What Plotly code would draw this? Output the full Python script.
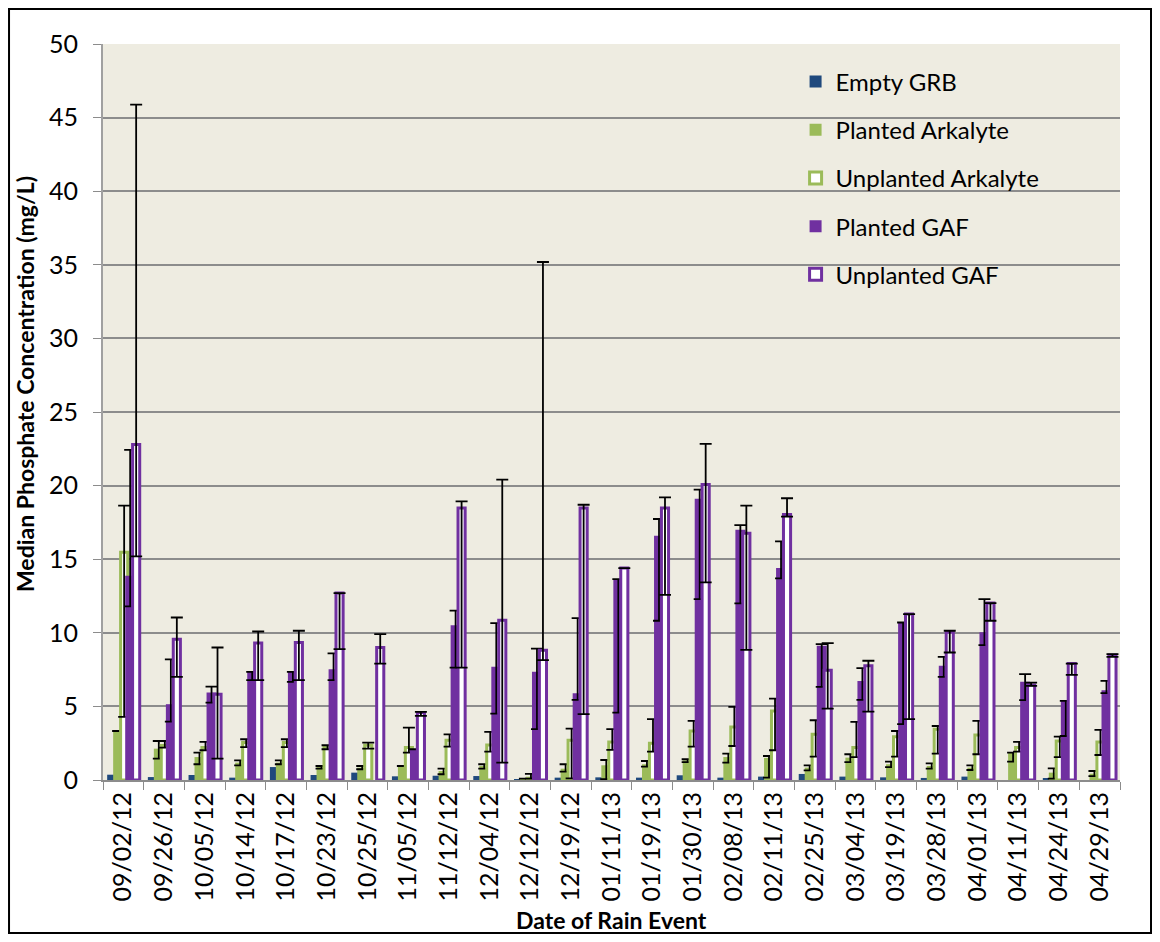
import plotly.graph_objects as go

dates = ["09/02/12", "09/26/12", "10/05/12", "10/14/12", "10/17/12", "10/23/12", "10/25/12",
         "11/05/12", "11/12/12", "12/04/12", "12/12/12", "12/19/12", "01/11/13", "01/19/13",
         "01/30/13", "02/08/13", "02/11/13", "02/25/13", "03/04/13", "03/19/13", "03/28/13",
         "04/01/13", "04/11/13", "04/24/13", "04/29/13"]

empty_grb = [0.36, 0.2, 0.34, 0.16, 0.88, 0.34, 0.5, 0.25, 0.29, 0.27, 0.05, 0.16, 0.18,
             0.16, 0.32, 0.16, 0.23, 0.41, 0.23, 0.18, 0.14, 0.23, 0, 0.1, 0]

planted_ark = [3.33, 2.13, 1.56, 1.18, 1.18, 0.88, 0.84, 0.95, 0.61, 0.95, 0.1, 0.77, 1.0,
               1.07, 1.34, 1.56, 1.5, 0.84, 1.52, 1.07, 0.95, 0.84, 1.86, 0.5, 0.43]
planted_ark_hi = [3.33, 2.65, 1.86, 1.34, 1.34, 0.95, 0.95, 0.95, 0.77, 1.07, 0.1, 1.07, 1.36,
                  1.29, 1.41, 1.79, 1.63, 1.0, 1.75, 1.25, 1.13, 1.0, 1.86, 0.79, 0.61]
planted_ark_lo = [3.33, 1.45, 1.07, 1.0, 1.07, 0.77, 0.73, 0.95, 0.39, 0.77, 0.1, 0.57, 0.05,
                  0.91, 1.22, 1.18, 0.16, 0.66, 1.22, 0.88, 0.77, 0.68, 1.25, 0.09, 0.27]

unplanted_ark = [15.47, 2.35, 2.2, 2.54, 2.54, 2.24, 2.36, 2.2, 2.7, 2.38, 0.12, 2.7, 2.59,
                 2.49, 3.33, 3.6, 4.69, 3.1, 2.2, 2.93, 3.45, 3.06, 2.2, 2.65, 2.59]
unplanted_ark_hi = [18.64, 2.65, 2.59, 2.77, 2.77, 2.36, 2.54, 3.56, 3.1, 3.27, 0.41, 3.49, 3.45,
                    4.13, 4.01, 4.97, 5.53, 4.06, 3.95, 3.33, 3.67, 4.01, 2.59, 2.95, 3.4]
unplanted_ark_lo = [4.29, 2.2, 2.02, 2.24, 2.24, 2.09, 2.13, 1.86, 2.27, 1.93, 0.1, 0.11, 2.04,
                    1.93, 2.27, 2.31, 2.02, 1.59, 1.56, 1.59, 1.79, 1.75, 1.93, 1.56, 1.7]

planted_gaf = [13.88, 5.15, 5.94, 7.35, 7.35, 7.53, None, 2.09, 10.52, 7.69, 7.35, 5.9, 13.6,
               16.6, 19.1, 17.0, 14.4, 9.12, 6.73, 10.7, 7.76, 10.03, 6.67, 5.37, 6.1]
planted_gaf_hi = [22.43, 8.2, 6.35, 7.35, 7.35, 8.6, None, 2.09, 11.5, 10.66, 8.93, 11.0, 13.65,
                  17.73, 19.73, 17.32, 16.21, 9.23, 7.6, 10.7, 8.37, 12.29, 7.19, 5.37, 6.73]
planted_gaf_lo = [11.79, 3.97, 5.26, 6.78, 6.67, 6.78, None, 2.09, 7.64, 4.51, 3.45, 5.44, 4.58,
                  10.82, 12.29, 12.0, 13.7, 6.33, 5.44, 3.79, 7.0, 9.16, 5.42, 2.99, 5.9]

unplanted_gaf = [22.79, 9.57, 5.83, 9.3, 9.34, 12.7, 9.0, 4.58, 18.48, 10.86, 8.82, 18.48, 14.4,
                 18.48, 20.07, 16.76, 18.03, 7.46, 7.76, 11.27, 10.03, 12.02, 6.46, 7.91, 8.5]
unplanted_gaf_hi = [45.88, 11.04, 9.0, 10.09, 10.14, 12.7, 9.91, 4.63, 18.93, 20.41, 35.19, 18.7, 14.4,
                    19.2, 22.83, 18.64, 19.14, 9.3, 8.1, 11.27, 10.14, 12.02, 6.62, 7.91, 8.55]
unplanted_gaf_lo = [15.19, 7.0, 1.45, 6.78, 6.78, 8.89, 7.91, 4.35, 7.64, 1.18, 8.14, 4.47, 14.4,
                    12.58, 13.42, 8.84, 17.89, 4.85, 4.65, 4.13, 8.66, 10.82, 6.4, 7.14, 8.37]

NAVY = "#1F497D"
GREEN = "#9BBB59"
PURPLE = "#7030A0"
FONT = "Lato"


def err(vals, hi, lo):
    plus = [None if v is None else round(h - v, 3) for v, h in zip(vals, hi)]
    minus = [None if v is None else round(v - l, 3) for v, l in zip(vals, lo)]
    return dict(type="data", symmetric=False, array=plus, arrayminus=minus,
                color="black", thickness=1.8, width=6)


series = [
    ("Empty GRB", empty_grb, None, None, NAVY, NAVY, -0.275),
    ("Planted Arkalyte", planted_ark, planted_ark_hi, planted_ark_lo, GREEN, GREEN, -0.128),
    ("Unplanted Arkalyte", unplanted_ark, unplanted_ark_hi, unplanted_ark_lo, "white", GREEN, 0.02),
    ("Planted GAF", planted_gaf, planted_gaf_hi, planted_gaf_lo, PURPLE, PURPLE, 0.168),
    ("Unplanted GAF", unplanted_gaf, unplanted_gaf_hi, unplanted_gaf_lo, "white", PURPLE, 0.315),
]

fig = go.Figure()
for i, (name, vals, hi, lo, fill, edge, center) in enumerate(series):
    hollow = fill == "white"
    w = 0.175 if hollow else 0.245
    fig.add_trace(go.Bar(
        x=dates, y=vals, name=name, legendgroup=str(i),
        width=w, offset=center - w / 2,
        marker=dict(color=fill, line=dict(color=edge, width=3 if hollow else 0)),
        error_y=err(vals, hi, lo) if hi is not None else None,
    ))

# page body adds an 8px margin all round, so keep the figure inside the window
fig.update_layout(
    width=1144, height=926,
    barmode="overlay",
    paper_bgcolor="white",
    plot_bgcolor="#EEECE1",
    margin=dict(l=95, r=32, t=36, b=154),
    font=dict(family=FONT, size=25, color="black"),
    showlegend=True,
    legend=dict(x=0.681, y=0.979, xanchor="left", yanchor="top",
                bgcolor="rgba(0,0,0,0)", font=dict(size=24, family=FONT),
                traceorder="grouped", tracegroupgap=14, itemwidth=30),
    xaxis=dict(type="category", tickangle=-90, ticks="outside", tickson="boundaries",
               ticklen=8, tickcolor="#8c8c8c", showline=True, linecolor="#8c8c8c",
               linewidth=2, showgrid=False, tickfont=dict(size=25)),
    yaxis=dict(range=[0, 50], dtick=5, ticks="outside", ticklen=8, tickcolor="#8c8c8c",
               showline=True, linecolor="#a0a0a0", linewidth=2, showgrid=True,
               gridcolor="#8c8c8c", gridwidth=2, zeroline=False, tickfont=dict(size=25),
               ticklabelstandoff=10),
)

fig.add_annotation(text="<b>Median Phosphate Concentration (mg/L)</b>", xref="paper", yref="paper",
                   x=-0.0767, y=0.538, xanchor="center", yanchor="middle", textangle=-90,
                   showarrow=False, font=dict(size=23, family=FONT))
fig.add_annotation(text="<b>Date of Rain Event</b>", xref="paper", yref="paper",
                   x=0.5, y=-0.19, xanchor="center", yanchor="middle", showarrow=False,
                   font=dict(size=23, family=FONT))

fig.add_shape(type="rect", xref="paper", yref="paper", x0=-0.0924, x1=1.0305,
              y0=-0.2079, y1=1.0476, line=dict(color="black", width=2))

fig.write_html("out.html")
